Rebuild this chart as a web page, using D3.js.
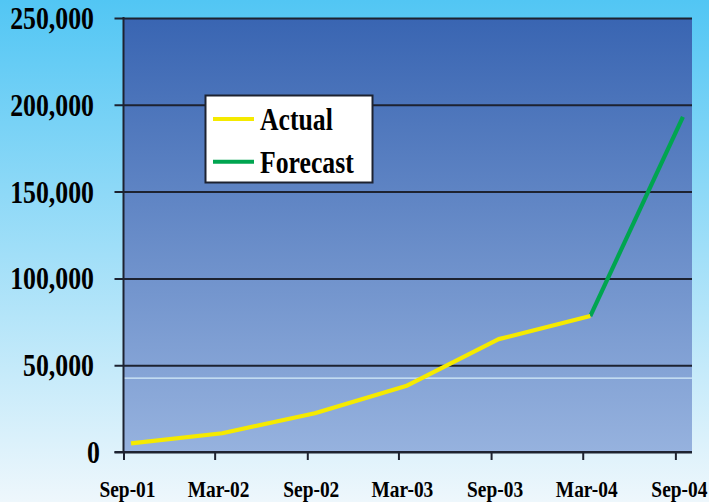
<!DOCTYPE html>
<html>
<head>
<meta charset="utf-8">
<script src="https://cdn.jsdelivr.net/npm/d3@7"></script>
<style>
  html, body { margin: 0; padding: 0; }
  svg { display: block; }
  text { font-family: "Liberation Serif", "Times New Roman", serif; font-weight: bold; fill: #000; }
</style>
</head>
<body>
<svg id="chart" width="709" height="502"></svg>
<script>
// ---- data ----
const tickLabels = ["Sep-01", "Mar-02", "Sep-02", "Mar-03", "Sep-03", "Mar-04", "Sep-04"];
const tickDates = ["2001-09-01", "2002-03-01", "2002-09-01", "2003-03-01", "2003-09-01", "2004-03-01", "2004-09-01"];
const actualDates = ["2001-09-16", "2002-03-16", "2002-09-16", "2003-03-16", "2003-09-16", "2004-03-16"];
const actualValues = [5000, 10800, 22300, 38000, 65000, 78300];
const forecastDates = ["2004-03-16", "2004-09-16"];
const forecastValues = [78300, 193000];
const yTicks = [0, 50000, 100000, 150000, 200000, 250000];
const refLineValue = 42500;
const legendLabels = ["Actual", "Forecast"];

const parse = d3.timeParse("%Y-%m-%d");
const W = 709, H = 502;
const plot = { left: 123.5, right: 692, top: 18, bottom: 452 };

const svg = d3.select("#chart");
const defs = svg.append("defs");
const bgGrad = defs.append("linearGradient").attr("id", "bg").attr("x1", 0).attr("y1", 0).attr("x2", 0).attr("y2", 1);
bgGrad.append("stop").attr("offset", "0%").attr("stop-color", "#52c6f4");
bgGrad.append("stop").attr("offset", "100%").attr("stop-color", "#eef7fc");
const plGrad = defs.append("linearGradient").attr("id", "pl").attr("x1", 0).attr("y1", 0).attr("x2", 0).attr("y2", 1);
plGrad.append("stop").attr("offset", "0%").attr("stop-color", "#3965b2");
plGrad.append("stop").attr("offset", "100%").attr("stop-color", "#96b2de");

svg.append("rect").attr("width", W).attr("height", H).attr("fill", "url(#bg)");

const x = d3.scaleTime()
  .domain([parse("2001-09-01"), parse("2004-10-04")])
  .range([plot.left, plot.right]);
const y = d3.scaleLinear().domain([0, 250000]).range([plot.bottom, plot.top]);

svg.append("rect")
  .attr("x", plot.left).attr("y", plot.top)
  .attr("width", plot.right - plot.left).attr("height", plot.bottom - plot.top)
  .attr("fill", "url(#pl)");

// reference thin line
svg.append("line")
  .attr("x1", plot.left).attr("x2", plot.right)
  .attr("y1", y(refLineValue)).attr("y2", y(refLineValue))
  .attr("stroke", "#d6eefa").attr("stroke-width", 1.2);

// y axis with gridlines
const yAxis = d3.axisLeft(y).tickValues(yTicks)
  .tickSize(-(plot.right - plot.left)).tickFormat("");
const yg = svg.append("g").attr("transform", `translate(${plot.left},0)`).call(yAxis);
yg.select(".domain").remove();
yg.selectAll(".tick line").attr("stroke", "#1d2230").attr("stroke-width", 2)
  .attr("x1", -9);

// y labels
const fmt = d3.format(",");
svg.append("g").selectAll("text").data(yTicks).join("text")
  .attr("text-anchor", "end")
  .attr("font-size", 25.8)
  .attr("transform", d => `translate(${d === 0 ? 100 : 94},${y(d) + 11}) scale(1,1.22)`)
  .text(d => fmt(d));

// left axis line
svg.append("line")
  .attr("x1", plot.left).attr("x2", plot.left)
  .attr("y1", plot.top - 1).attr("y2", plot.bottom + 1)
  .attr("stroke", "#1d2230").attr("stroke-width", 2);

// x axis
const xAxis = d3.axisBottom(x).tickValues(tickDates.map(parse)).tickSize(8).tickFormat("");
const xg = svg.append("g").attr("transform", `translate(0,${plot.bottom})`).call(xAxis);
xg.select(".domain").attr("stroke", "#1d2230").attr("stroke-width", 2)
  .attr("d", `M${plot.left - 9},0H${plot.right}`);
xg.selectAll(".tick line").attr("stroke", "#1d2230").attr("stroke-width", 2);

svg.append("g").selectAll("text").data(tickDates).join("text")
  .attr("text-anchor", "middle")
  .attr("font-size", 19.4)
  .attr("transform", (d) => `translate(${x(parse(d)) + 4},497.3) scale(1,1.24)`)
  .text((d, i) => tickLabels[i]);

// lines
const line = d3.line().x(d => x(d[0])).y(d => y(d[1]));
const actual = actualDates.map((d, i) => [parse(d), actualValues[i]]);
const forecast = forecastDates.map((d, i) => [parse(d), forecastValues[i]]);
svg.append("path").datum(forecast).attr("d", line)
  .attr("fill", "none").attr("stroke", "#00a550").attr("stroke-width", 4.2);
svg.append("path").datum(actual).attr("d", line)
  .attr("fill", "none").attr("stroke", "#f5ea00").attr("stroke-width", 4.2)
  .attr("stroke-linejoin", "round");

// legend
const lg = svg.append("g");
lg.append("rect").attr("x", 205.5).attr("y", 95.5).attr("width", 167).attr("height", 87)
  .attr("fill", "#fff").attr("stroke", "#1d2230").attr("stroke-width", 2);
const legendColors = ["#f5ea00", "#00a550"];
const legendY = [119, 161.7];
legendLabels.forEach((lab, i) => {
  lg.append("line").attr("x1", 213).attr("x2", 254)
    .attr("y1", legendY[i]).attr("y2", legendY[i])
    .attr("stroke", legendColors[i]).attr("stroke-width", 4);
  lg.append("text")
    .attr("font-size", 25.7)
    .attr("transform", `translate(260,${legendY[i] + 11}) scale(1,1.22)`)
    .text(lab);
});
</script>
</body>
</html>
